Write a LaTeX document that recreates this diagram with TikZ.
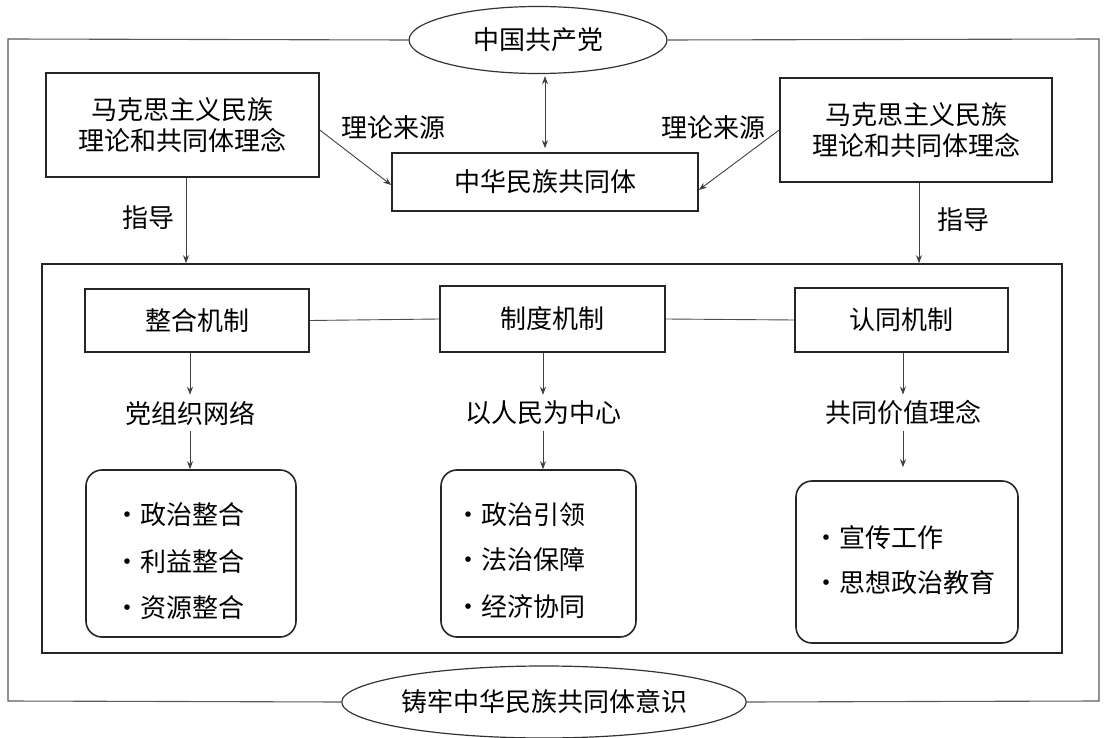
\documentclass[tikz,border=0pt]{standalone}
\usepackage{fontspec}
\setmainfont{Noto Sans CJK SC}
\usetikzlibrary{shapes.geometric,arrows.meta}
\begin{document}
\begin{tikzpicture}[x=1pt,y=-1pt,
  font=\fontsize{26}{31}\selectfont,
  box/.style={draw=black!85,line width=1.6pt,inner sep=0pt,align=center},
  rbox/.style={box,rounded corners=16pt},
  ell/.style={draw=black!80,ellipse,line width=1.2pt,inner sep=0pt},
  conn/.style={draw=black!75,line width=0.9pt,-{Stealth[length=8pt,width=6pt]}},
  dconn/.style={draw=black!75,line width=0.9pt,{Stealth[length=8pt,width=6pt]}-{Stealth[length=8pt,width=6pt]}},
  plain/.style={draw=black!70,line width=0.9pt},
  frame/.style={draw=black!65,line width=1.1pt},
  lbl/.style={inner sep=0pt},
  item/.style={inner sep=0pt,anchor=west}]
\useasboundingbox (0,0) rectangle (1104,738);
% ellipses
\node[ell,minimum width=258,minimum height=67] (cpc) at (538,40) {中国共产党};
\node[ell,minimum width=378,minimum height=72] (goal) at (544,702) {铸牢中华民族共同体意识};
% outer frame
\coordinate (otl) at (8,39);
\coordinate (obl) at (8,701);
\coordinate (otr) at (1099,39);
\coordinate (obr) at (1099,701);
\draw[frame] (cpc.west) -- (otl) -- (obl) -- (goal.west);
\draw[frame] (cpc.east) -- (otr) -- (obr) -- (goal.east);
% top boxes
\node[box,minimum width=273,minimum height=104] (L) at (182.5,125) {马克思主义民族\\理论和共同体理念};
\node[box,minimum width=272,minimum height=104] (R) at (916,130) {马克思主义民族\\理论和共同体理念};
\node[box,minimum width=306,minimum height=58] (M) at (545,182) {中华民族共同体};
\draw[dconn,shorten <=4pt,shorten >=2pt] (M.north) -- (M.north |- cpc.south);
\draw[conn] ([yshift=-5pt]L.east) -- ([yshift=-3pt]M.west);
\draw[conn] (R.west) -- ([yshift=-8pt]M.east);
\node[lbl] (srcL) at (393,128) {理论来源};
\node[lbl] (srcR) at (713,128) {理论来源};
% inner frame
\node[box,minimum width=1020,minimum height=389] (inner) at (552,458.5) {};
\coordinate (gl) at ([xshift=3.5pt]L.south);
\coordinate (gr) at ([xshift=3pt]R.south);
\draw[conn] (gl) -- (gl |- inner.north);
\draw[conn] (gr) -- (gr |- inner.north);
\node[lbl] (guideL) at (148,218) {指导};
\node[lbl] (guideR) at (963,220) {指导};
% mechanism boxes
\node[box,minimum width=224,minimum height=63] (A) at (197,320.5) {整合机制};
\node[box,minimum width=225,minimum height=66] (B) at (552.5,319) {制度机制};
\node[box,minimum width=213,minimum height=64] (C) at (901.5,320) {认同机制};
\draw[plain] (A.east) -- (B.west);
\draw[plain] (B.east) -- (C.west);
% sub labels
\node[lbl] (a1) at (190,413) {党组织网络};
\node[lbl] (b1) at (543,413) {以人民为中心};
\node[lbl] (c1) at (903,413) {共同价值理念};
\draw[conn,shorten >=6pt] (A.south -| a1) -- (a1.north);
\draw[conn,shorten >=6pt] (B.south -| b1) -- (b1.north);
\draw[conn,shorten >=6pt] (C.south -| c1) -- (c1.north);
% rounded boxes
\node[rbox,minimum width=210,minimum height=167] (D) at (191,553.5) {};
\node[rbox,minimum width=195,minimum height=167] (E) at (538.5,553.5) {};
\node[rbox,minimum width=222,minimum height=162] (F) at (907,562) {};
\draw[conn,shorten <=6pt] (a1.south) -- (a1.south |- D.north);
\draw[conn,shorten <=6pt] (b1.south) -- (b1.south |- E.north);
\draw[conn,shorten <=6pt,shorten >=13pt] (c1.south) -- (c1.south |- F.north);
% items
\node[item] (d1) at (114,515) {·政治整合};
\node[item] (d2) at (114,562) {·利益整合};
\node[item] (d3) at (114,608) {·资源整合};
\node[item] (e1) at (455,515) {·政治引领};
\node[item] (e2) at (455,560) {·法治保障};
\node[item] (e3) at (455,607) {·经济协同};
\node[item] (f1) at (813,538) {·宣传工作};
\node[item] (f2) at (813,583) {·思想政治教育};
\end{tikzpicture}
\end{document}
